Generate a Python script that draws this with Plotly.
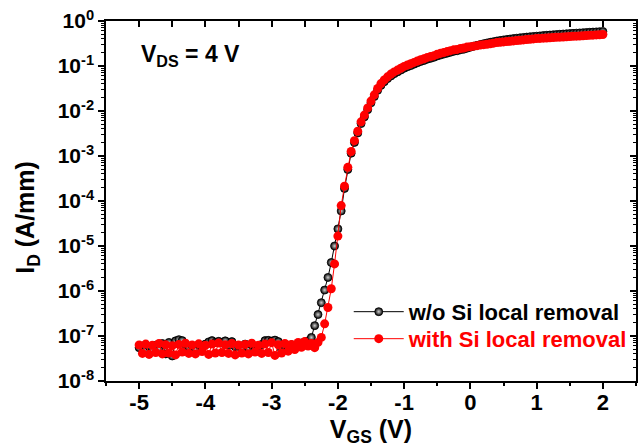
import plotly.graph_objects as go

# Gate voltage sweep (V), -5.00 ... 2.00 in 0.05 V steps
VGS = [round(-5 + 0.05 * i, 2) for i in range(141)]

# I_D (A/mm), w/o Si local removal
ID_WO = [
    5.5e-8, 6.0e-8, 5.0e-8, 5.8e-8, 4.8e-8, 6.2e-8, 5.2e-8, 6.8e-8, 4.0e-8, 7.2e-8,
    3.6e-8, 7.8e-8, 8.3e-8, 7.9e-8, 6.5e-8, 5.6e-8, 6.1e-8, 5.0e-8, 6.4e-8, 5.3e-8,
    6.6e-8, 7.4e-8, 7.9e-8, 7.2e-8, 7.6e-8, 7.0e-8, 7.8e-8, 6.2e-8, 7.5e-8, 5.8e-8,
    6.0e-8, 5.0e-8, 6.6e-8, 5.4e-8, 6.3e-8, 4.9e-8, 5.8e-8, 6.5e-8, 7.9e-8, 8.0e-8,
    7.7e-8, 8.1e-8, 7.5e-8, 5.0e-8, 6.0e-8, 5.3e-8, 6.4e-8, 5.6e-8, 6.7e-8, 7.0e-8,
    7.4e-8,
    7.8e-8, 9.3e-8, 1.7e-7, 3.0e-7, 5.5e-7, 1.05e-6, 2.0e-6, 4.3e-6, 1.0e-5, 2.4e-5,
    6.0e-5, 1.9e-4, 5.0e-4, 1.15e-3,
    2.0e-3, 3.25e-3, 5.25e-3, 7.4e-3, 1.07e-2, 1.52e-2, 2.09e-2, 2.88e-2, 3.7e-2, 4.47e-2,
    5.25e-2, 6.0e-2, 6.75e-2, 7.4e-2, 8.1e-2, 8.9e-2, 9.6e-2, 0.102, 0.110, 0.118,
    0.126, 0.133, 0.142, 0.148, 0.156, 0.167, 0.175, 0.184, 0.193, 0.202,
    0.212, 0.218, 0.229, 0.236, 0.249, 0.262,
    0.275, 0.288, 0.300, 0.313, 0.325, 0.337, 0.348, 0.360, 0.370, 0.380,
    0.389, 0.398, 0.407, 0.415, 0.423, 0.431, 0.439, 0.446, 0.453, 0.460,
    0.467, 0.474, 0.481, 0.488, 0.494, 0.501, 0.507, 0.513, 0.519, 0.525,
    0.531, 0.537, 0.543, 0.549, 0.555, 0.561, 0.567, 0.573, 0.579, 0.585,
]

# I_D (A/mm), with Si local removal
ID_WITH = [
    6.3e-8, 4.1e-8, 6.6e-8, 3.9e-8, 6.2e-8, 4.3e-8, 6.8e-8, 4.0e-8, 6.4e-8, 4.2e-8,
    6.1e-8, 3.8e-8, 6.5e-8, 4.4e-8, 6.9e-8, 4.1e-8, 6.3e-8, 4.0e-8, 6.7e-8, 4.5e-8,
    6.2e-8, 3.9e-8, 6.6e-8, 4.2e-8, 7.0e-8, 4.3e-8, 6.4e-8, 4.1e-8, 6.8e-8, 3.8e-8,
    6.3e-8, 4.2e-8, 6.5e-8, 4.0e-8, 6.9e-8, 4.4e-8, 6.2e-8, 4.1e-8, 6.6e-8, 4.3e-8,
    7.1e-8, 3.7e-8, 6.4e-8, 4.2e-8, 6.8e-8, 4.6e-8, 6.5e-8, 5.0e-8, 7.2e-8, 5.6e-8,
    7.5e-8,
    6.0e-8, 6.8e-8, 5.5e-8, 7.2e-8,
    9.3e-8, 1.86e-7, 4.3e-7, 1.12e-6, 4.0e-6, 1.66e-5, 7.9e-5, 2.14e-4, 5.6e-4, 1.26e-3,
    2.19e-3, 3.55e-3, 5.75e-3, 8.1e-3, 1.17e-2, 1.66e-2, 2.29e-2, 3.16e-2, 4.07e-2, 4.9e-2,
    5.75e-2, 6.6e-2, 7.4e-2, 8.1e-2, 8.9e-2, 9.8e-2, 0.105, 0.112, 0.120, 0.129,
    0.138, 0.145, 0.155, 0.162, 0.170, 0.182, 0.191, 0.200, 0.209, 0.219,
    0.229, 0.234, 0.245, 0.251, 0.263, 0.269,
    0.276, 0.283, 0.291, 0.298, 0.305, 0.313, 0.322, 0.331, 0.337, 0.343,
    0.349, 0.355, 0.361, 0.367, 0.374, 0.380, 0.387, 0.394, 0.400, 0.407,
    0.411, 0.415, 0.420, 0.424, 0.428, 0.433, 0.437, 0.442, 0.446, 0.451,
    0.456, 0.460, 0.465, 0.470, 0.475, 0.480, 0.485, 0.490, 0.495, 0.500,
]

assert len(ID_WO) == len(VGS) and len(ID_WITH) == len(VGS)

SERIES_NAMES = ["w/o Si local removal", "with Si local removal"]
X_TICKS = [-5, -4, -3, -2, -1, 0, 1, 2]
X_TICKTEXT = ["-5", "-4", "-3", "-2", "-1", "0", "1", "2"]
X_MINOR = [-5.5, -4.5, -3.5, -2.5, -1.5, -0.5, 0.5, 1.5, 2.5]
Y_TICKS = [10.0 ** e for e in range(-8, 1)]
Y_TICKTEXT = ["10<sup>%d</sup>" % e for e in range(-8, 1)]
Y_MINOR = [m * 10.0 ** e for e in range(-8, 0) for m in range(2, 10)]

FONT = "Liberation Sans, Arial, sans-serif"

fig = go.Figure()
fig.add_trace(go.Scatter(
    x=VGS, y=ID_WO, name=SERIES_NAMES[0], mode="lines+markers",
    line=dict(color="black", width=1),
    marker=dict(symbol="circle", size=8, color="black",
                gradient=dict(type="radial", color="#d0d0d0"),
                line=dict(color="black", width=0.8)),
    xaxis="x", yaxis="y", legend="legend",
))
fig.add_trace(go.Scatter(
    x=VGS, y=ID_WITH, name='<span style="color:#ff0000">%s</span>' % SERIES_NAMES[1],
    mode="lines+markers",
    line=dict(color="#ff0000", width=1),
    marker=dict(symbol="circle", size=9, color="#ff0000", line=dict(width=0)),
    xaxis="x2", yaxis="y2", legend="legend2",
))

axis_common = dict(showline=True, linecolor="black", linewidth=1.5, mirror=False,
                   showgrid=False, zeroline=False, tickcolor="black", tickwidth=1.5)

legend_common = dict(x=0.458, xanchor="left", yanchor="middle",
                     bgcolor="rgba(0,0,0,0)", font=dict(size=22, family=FONT, weight="bold"),
                     itemwidth=50)

fig.update_layout(
    width=644, height=448,
    margin=dict(l=106, r=8, t=21, b=67),
    paper_bgcolor="white", plot_bgcolor="white",
    font=dict(family=FONT, color="black", size=20, weight="bold"),
    showlegend=True,
    legend=dict(y=0.192, **legend_common),
    legend2=dict(y=0.117, **legend_common),
    xaxis=dict(range=[-5.5, 2.5], tickmode="array", tickvals=X_TICKS, ticktext=X_TICKTEXT,
               ticks="outside", ticklen=6, ticklabelstandoff=-5,
               minor=dict(ticks="outside", ticklen=3, tickmode="array", tickvals=X_MINOR,
                          tickcolor="black", tickwidth=1.5),
               tickfont=dict(size=22, family=FONT, weight="bold"),
               title=dict(text="V<sub>GS</sub> (V)", font=dict(size=25, family=FONT, weight="bold"), standoff=2),
               **axis_common),
    yaxis=dict(type="log", range=[-8, 0], tickmode="array", tickvals=Y_TICKS, ticktext=Y_TICKTEXT,
               ticks="outside", ticklen=6,
               minor=dict(ticks="outside", ticklen=3, tickmode="array", tickvals=Y_MINOR, tickcolor="black", tickwidth=1),
               tickfont=dict(size=21, family=FONT, weight="bold"),
               **axis_common),
    xaxis2=dict(overlaying="x", side="top", matches="x", anchor="y2", range=[-5.5, 2.5],
                tickmode="array", tickvals=X_TICKS, ticks="inside", ticklen=6, showticklabels=False,
                minor=dict(ticks="inside", ticklen=6, tickmode="array", tickvals=X_MINOR,
                           tickcolor="black", tickwidth=1.5),
                **axis_common),
    yaxis2=dict(overlaying="y", side="right", matches="y", anchor="x2", type="log", range=[-8, 0],
                tickmode="array", tickvals=Y_TICKS, ticks="inside", ticklen=6, showticklabels=False,
                minor=dict(ticks="inside", ticklen=3, tickmode="array", tickvals=Y_MINOR, tickcolor="black", tickwidth=1),
                **axis_common),
    annotations=[
        dict(text="V<sub>DS</sub> = 4 V", xref="paper", yref="paper", x=0.062, y=0.905,
             xanchor="left", yanchor="middle", showarrow=False,
             font=dict(size=23, family=FONT, color="black", weight="bold")),
        dict(text="I<sub>D</sub> (A/mm)", xref="paper", yref="paper", x=-0.148, y=0.455,
             xanchor="center", yanchor="middle", textangle=-90, showarrow=False,
             font=dict(size=25, family=FONT, color="black", weight="bold")),
    ],
)

fig.write_html("out.html")
